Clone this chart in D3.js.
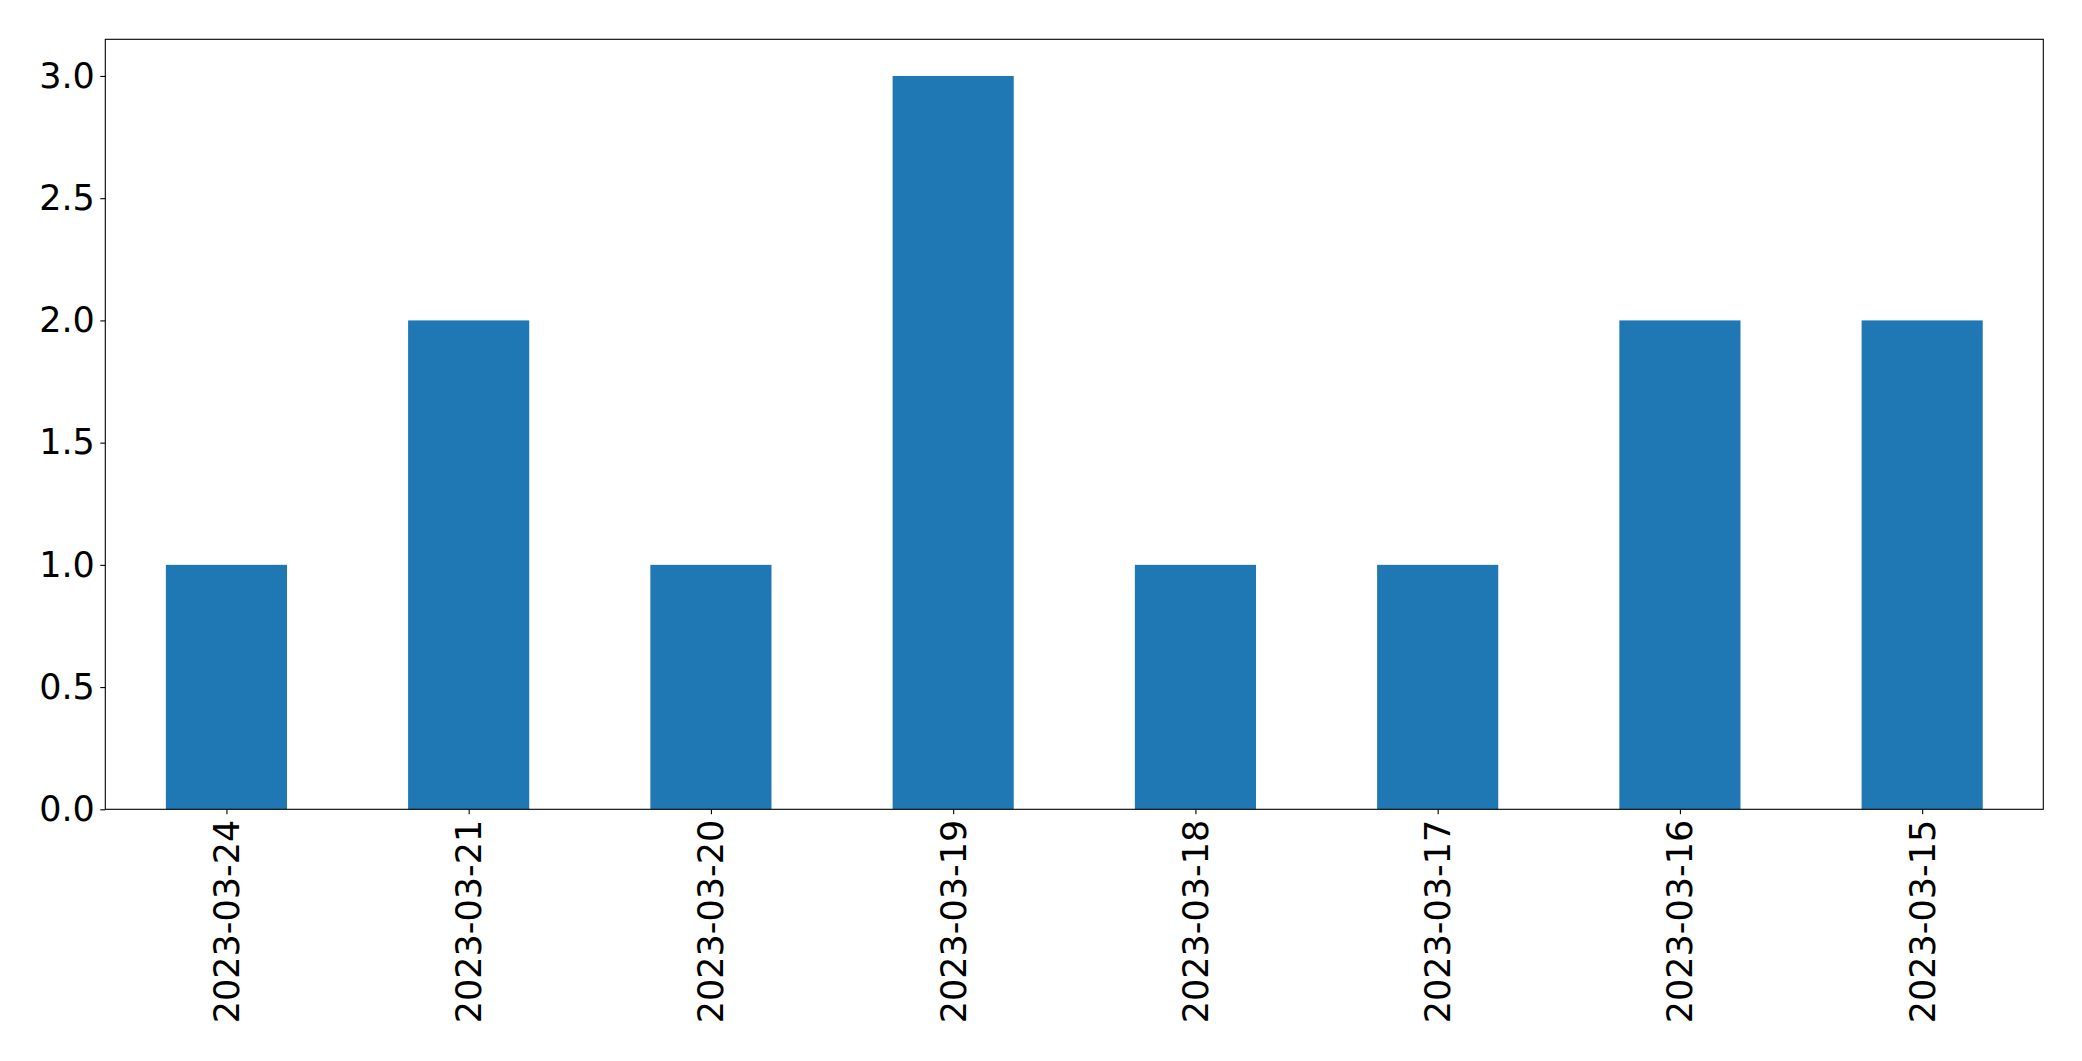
<!DOCTYPE html>
<html>
<head>
<meta charset="utf-8">
<script src="https://cdn.jsdelivr.net/npm/d3@7"></script>
<style>
html,body{margin:0;padding:0;background:#fff;}
svg{display:block;}
</style>
</head>
<body>
<script>
const categories = ["2023-03-24","2023-03-21","2023-03-20","2023-03-19","2023-03-18","2023-03-17","2023-03-16","2023-03-15"];
const values = [1, 2, 1, 3, 1, 1, 2, 2];
const yTicks = [0, 0.5, 1.0, 1.5, 2.0, 2.5, 3.0];

const W = 2082, H = 1061;
const m = {left: 105.3, top: 39.3, right: 2043.3, bottom: 809.3};
const fontSize = 35;
const tickLen = 5, tickPad = 5.5;

const svg = d3.select("body").append("svg").attr("width", W).attr("height", H);

const x = d3.scaleLinear().domain([-0.5, categories.length - 0.5]).range([m.left, m.right]);
const y = d3.scaleLinear().domain([0, d3.max(values) * 1.05]).range([m.bottom, m.top]);

// bars
svg.append("g").selectAll("rect").data(values).join("rect")
  .attr("x", (d, i) => x(i - 0.25))
  .attr("width", (d, i) => x(i + 0.25) - x(i - 0.25))
  .attr("y", d => y(d))
  .attr("height", d => y(0) - y(d))
  .attr("fill", "#1f77b4");

// y axis
const yAxis = d3.axisLeft(y).tickValues(yTicks).tickFormat(d3.format(".1f"))
  .tickSize(tickLen).tickPadding(tickPad);
const gy = svg.append("g").attr("transform", `translate(${m.left},0)`).call(yAxis);
gy.select(".domain").remove();
gy.selectAll(".tick line").attr("stroke", "#000").attr("stroke-width", 1.1);
gy.selectAll(".tick text").attr("fill", "#000")
  .style("font-family", "'DejaVu Sans', sans-serif").style("font-size", fontSize + "px");

// x axis
const xAxis = d3.axisBottom(x).tickValues(d3.range(categories.length))
  .tickFormat(i => categories[i]).tickSize(tickLen).tickPadding(tickPad);
const gx = svg.append("g").attr("transform", `translate(0,${m.bottom})`).call(xAxis);
gx.select(".domain").remove();
gx.selectAll(".tick line").attr("stroke", "#000").attr("stroke-width", 1.1);
gx.selectAll(".tick text").attr("fill", "#000")
  .style("font-family", "'DejaVu Sans', sans-serif").style("font-size", fontSize + "px")
  .attr("x", 0).attr("y", 0).attr("dy", null)
  .attr("text-anchor", "end")
  .attr("dominant-baseline", "central")
  .attr("transform", `translate(0,${tickLen + tickPad}) rotate(-90)`);

// frame
svg.append("rect")
  .attr("x", m.left).attr("y", m.top)
  .attr("width", m.right - m.left).attr("height", m.bottom - m.top)
  .attr("fill", "none").attr("stroke", "#000").attr("stroke-width", 1.1);
</script>
</body>
</html>
